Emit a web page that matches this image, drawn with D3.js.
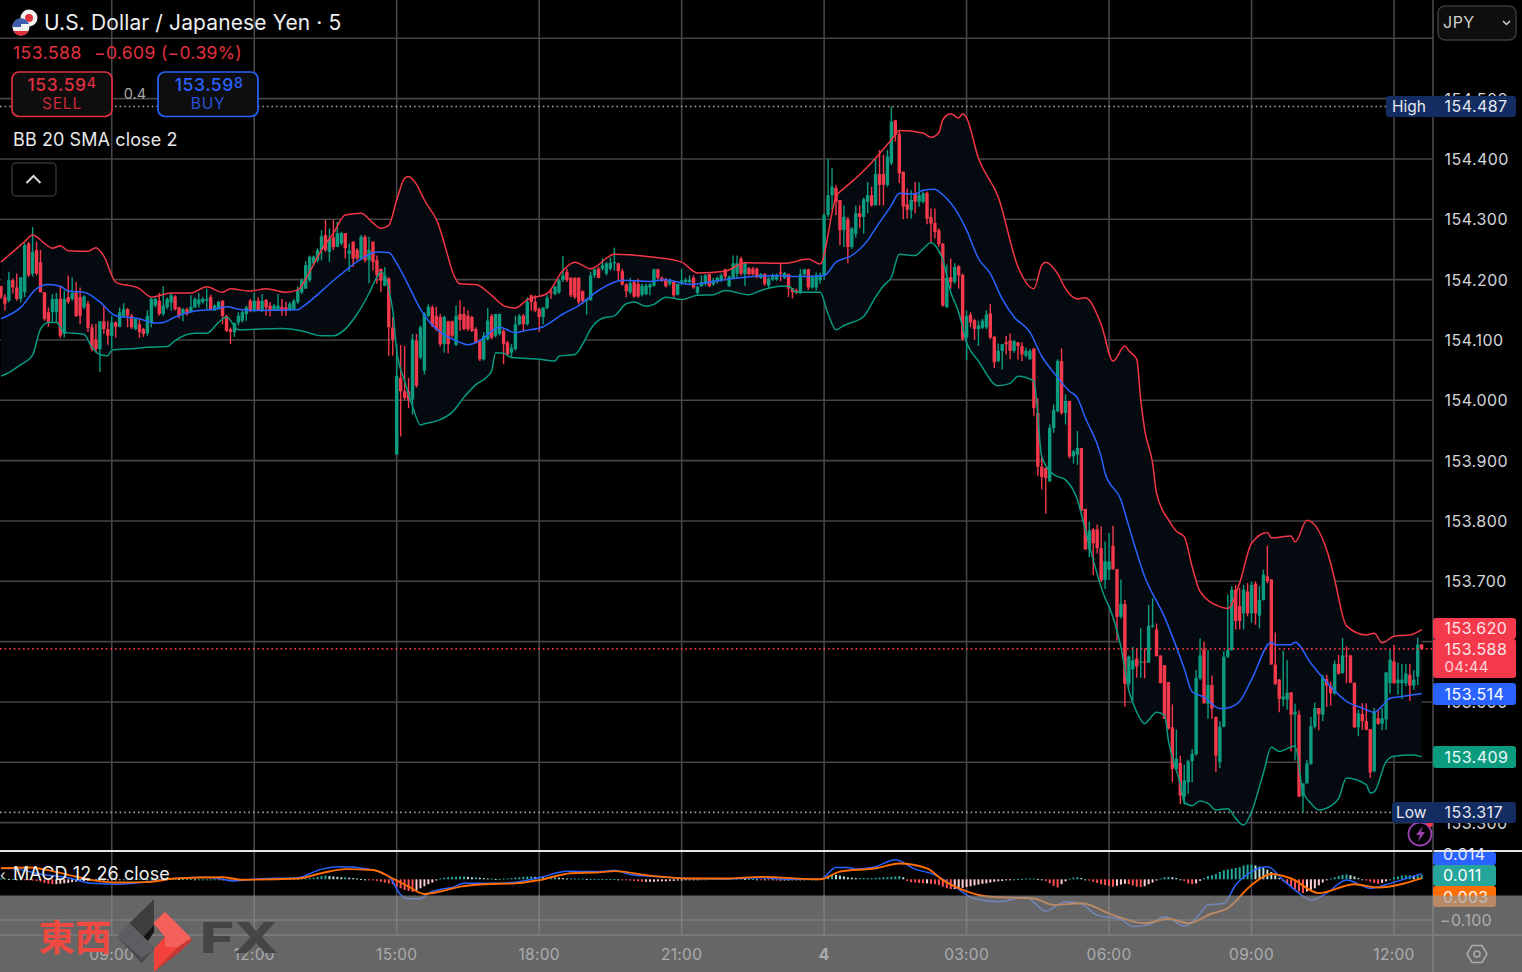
<!DOCTYPE html>
<html><head><meta charset="utf-8"><style>html,body{margin:0;padding:0;background:#000;overflow:hidden}svg{display:block}</style>
<script src="https://cdn.jsdelivr.net/npm/d3@7"></script></head><body><div id="c"></div>
<script>
const opens=[
154.189,154.171,154.165,154.199,154.187,154.168,154.179,154.260,154.210,154.249,
154.229,154.179,154.146,154.146,154.146,154.168,154.110,154.171,154.168,154.179,
154.171,154.154,154.160,154.121,154.101,154.085,154.131,154.118,154.107,154.129,
154.122,154.140,154.151,154.140,154.118,154.126,154.118,154.111,154.129,154.157,
154.165,154.143,154.154,154.162,154.172,154.154,154.143,154.151,154.146,154.154,
154.159,154.163,154.165,154.171,154.149,154.151,154.165,154.140,154.118,154.113,
154.129,154.132,154.143,154.165,154.149,154.165,154.149,154.166,154.157,154.149,
154.149,154.155,154.154,154.149,154.151,154.163,154.179,154.185,154.199,154.227,
154.232,154.249,154.274,154.246,154.270,154.254,154.260,154.277,154.243,154.263,
154.249,154.235,154.271,154.232,154.263,154.232,154.218,154.190,154.202,154.121,
153.910,154.037,154.015,154.015,154.001,154.099,154.071,154.049,154.140,154.154,
154.140,154.138,154.093,154.131,154.131,154.092,154.143,154.143,154.140,154.138,
154.118,154.099,154.068,154.101,154.140,154.107,154.110,154.115,154.096,154.079,
154.085,154.126,154.140,154.126,154.174,154.163,154.151,154.138,154.153,154.179,
154.176,154.179,154.199,154.213,154.203,154.203,154.203,154.181,154.165,154.166,
154.207,154.218,154.218,154.210,154.218,154.227,154.227,154.214,154.192,154.179,
154.196,154.193,154.175,154.176,154.187,154.190,154.217,154.203,154.200,154.193,
154.196,154.175,154.193,154.196,154.196,154.203,154.178,154.189,154.193,154.209,
154.192,154.196,154.199,154.217,154.189,154.203,154.210,154.235,154.209,154.219,
154.218,154.218,154.203,154.209,154.190,154.200,154.200,154.212,154.203,154.209,
154.186,154.182,154.179,154.209,154.217,154.187,154.187,154.199,154.207,154.307,
154.340,154.352,154.332,154.282,154.300,154.254,154.276,154.310,154.304,154.329,
154.340,154.323,154.375,154.375,154.357,154.393,154.464,154.442,154.379,154.325,
154.315,154.343,154.329,154.329,154.344,154.304,154.294,154.282,154.260,154.154,
154.204,154.196,154.222,154.208,154.104,154.142,154.133,154.118,154.120,154.121,
154.144,154.105,154.065,154.082,154.096,154.099,154.082,154.096,154.090,154.074,
154.068,154.086,153.979,153.890,153.888,153.866,153.954,153.982,154.065,153.979,
153.999,153.907,153.910,153.921,153.820,153.753,153.786,153.786,153.755,153.702,
153.719,153.759,153.720,153.641,153.662,153.530,153.554,153.572,153.565,153.567,
153.565,153.625,153.620,153.577,153.561,153.533,153.458,153.389,153.399,153.343,
153.367,153.402,153.413,153.539,153.587,153.497,153.528,153.475,153.400,153.459,
153.575,153.586,153.686,153.659,153.647,153.683,153.647,153.696,153.643,153.669,
153.708,153.703,153.562,153.537,153.504,153.504,153.516,153.479,153.479,153.344,
153.365,153.397,153.459,153.490,153.479,153.538,153.527,153.514,153.563,153.548,
153.577,153.577,153.532,153.458,153.480,153.468,153.455,153.385,153.473,153.464,
153.471,153.531,153.567,153.531,153.531,153.531,153.545,153.527,153.542,153.595];
const highs=[
154.190,154.176,154.213,154.202,154.210,154.204,154.260,154.263,154.287,154.263,
154.249,154.179,154.154,154.176,154.178,154.189,154.182,154.207,154.204,154.196,
154.187,154.174,154.165,154.127,154.127,154.131,154.157,154.132,154.140,154.131,
154.154,154.161,154.153,154.143,154.135,154.135,154.120,154.149,154.171,154.171,
154.178,154.189,154.171,154.178,154.174,154.155,154.153,154.154,154.174,154.171,
154.178,154.171,154.185,154.175,154.159,154.165,154.166,154.142,154.121,154.129,
154.146,154.149,154.157,154.168,154.179,154.171,154.176,154.168,154.163,154.160,
154.176,154.168,154.163,154.163,154.168,154.189,154.202,154.231,154.240,154.240,
154.252,154.282,154.299,154.285,154.299,154.296,154.279,154.277,154.260,154.263,
154.252,154.274,154.274,154.271,154.263,154.240,154.218,154.221,154.204,154.138,
154.093,154.092,154.090,154.037,154.110,154.110,154.124,154.146,154.159,154.157,
154.155,154.143,154.140,154.132,154.132,154.157,154.166,154.155,154.149,154.140,
154.121,154.101,154.113,154.153,154.143,154.143,154.144,154.118,154.099,154.093,
154.140,154.143,154.143,154.171,154.175,154.174,154.154,154.154,154.174,154.185,
154.190,154.202,154.239,154.218,154.204,154.204,154.204,154.182,154.168,154.213,
154.218,154.221,154.235,154.229,154.237,154.253,154.228,154.218,154.194,154.203,
154.199,154.202,154.193,154.193,154.194,154.218,154.218,154.205,154.203,154.202,
154.198,154.193,154.218,154.203,154.207,154.207,154.190,154.207,154.209,154.210,
154.203,154.205,154.210,154.218,154.207,154.240,154.240,154.238,154.229,154.221,
154.221,154.220,154.211,154.211,154.204,154.210,154.210,154.227,154.213,154.210,
154.186,154.185,154.218,154.218,154.218,154.207,154.212,154.212,154.310,154.400,
154.385,154.357,154.332,154.323,154.304,154.287,154.323,154.323,154.336,154.362,
154.354,154.401,154.415,154.407,154.415,154.487,154.465,154.446,154.379,154.351,
154.348,154.362,154.361,154.346,154.346,154.318,154.318,154.285,154.260,154.225,
154.235,154.227,154.224,154.210,154.149,154.146,154.135,154.132,154.135,154.149,
154.160,154.107,154.094,154.093,154.107,154.111,154.100,154.096,154.096,154.087,
154.085,154.086,154.003,153.906,153.888,153.960,153.993,154.068,154.086,154.010,
153.999,153.918,153.949,153.921,153.820,153.799,153.788,153.794,153.791,153.766,
153.780,153.792,153.720,153.703,153.669,153.577,153.591,153.589,153.622,153.589,
153.661,153.672,153.630,153.577,153.561,153.533,153.496,153.454,153.411,153.396,
153.404,153.422,153.553,153.605,153.600,153.586,153.544,153.476,153.468,153.584,
153.678,153.692,153.694,153.689,153.694,153.697,153.700,153.700,153.692,153.719,
153.759,153.703,153.615,153.538,153.585,153.569,153.516,153.497,153.486,153.365,
153.404,153.475,153.499,153.490,153.545,153.545,153.534,153.569,153.578,153.606,
153.592,153.578,153.532,153.487,153.498,153.498,153.455,153.490,153.486,153.490,
153.549,153.586,153.595,153.565,153.563,153.563,153.563,153.553,153.607,153.596];
const lows=[
154.168,154.149,154.162,154.177,154.165,154.162,154.171,154.204,154.205,154.207,
154.179,154.132,154.122,154.129,154.129,154.103,154.104,154.160,154.165,154.138,
154.126,154.151,154.113,154.081,154.079,154.047,154.110,154.092,154.085,154.104,
154.121,154.138,154.121,154.118,154.116,154.103,154.105,154.107,154.121,154.154,
154.140,154.140,154.151,154.149,154.149,154.136,154.131,154.140,154.146,154.153,
154.154,154.160,154.151,154.149,154.148,154.150,154.126,154.113,154.093,154.105,
154.124,154.129,154.132,154.146,154.146,154.148,154.146,154.140,154.139,154.148,
154.149,154.140,154.140,154.148,154.150,154.160,154.176,154.185,154.196,154.224,
154.229,154.232,154.246,154.229,154.249,154.254,154.257,154.235,154.213,154.221,
154.232,154.232,154.229,154.194,154.215,154.193,154.179,154.189,154.074,154.074,
153.910,153.940,154.001,153.987,153.976,154.021,154.068,154.043,154.138,154.121,
154.115,154.089,154.079,154.078,154.104,154.090,154.115,154.116,154.115,154.113,
154.094,154.065,154.066,154.099,154.101,154.104,154.107,154.060,154.074,154.070,
154.082,154.124,154.115,154.124,154.149,154.146,154.113,154.126,154.151,154.168,
154.174,154.176,154.196,154.196,154.171,154.168,154.159,154.160,154.142,154.165,
154.203,154.202,154.215,154.207,154.215,154.215,154.199,154.190,154.171,154.176,
154.170,154.170,154.172,154.174,154.174,154.188,154.200,154.196,154.187,154.190,
154.171,154.174,154.190,154.193,154.193,154.185,154.175,154.188,154.190,154.188,
154.190,154.193,154.196,154.199,154.188,154.202,154.202,154.207,154.190,154.207,
154.207,154.202,154.201,154.190,154.186,154.198,154.198,154.197,154.201,154.171,
154.169,154.176,154.176,154.204,154.183,154.185,154.182,154.193,154.199,154.304,
154.315,154.307,154.257,154.254,154.227,154.251,154.270,154.285,154.276,154.310,
154.321,154.323,154.323,154.323,154.354,154.390,154.429,154.360,154.300,154.301,
154.301,154.310,154.321,154.326,154.292,154.262,154.268,154.254,154.155,154.154,
154.185,154.193,154.185,154.099,154.066,154.121,154.100,154.090,154.118,154.118,
154.101,154.053,154.063,154.051,154.076,154.068,154.079,154.067,154.065,154.071,
154.067,153.974,153.874,153.852,153.812,153.864,153.946,153.980,153.976,153.960,
153.904,153.895,153.893,153.816,153.752,153.740,153.710,153.746,153.699,153.687,
153.702,153.719,153.602,153.638,153.492,153.525,153.502,153.540,153.540,153.539,
153.565,153.623,153.575,153.531,153.472,153.454,153.367,153.386,153.331,153.330,
153.348,153.367,153.411,153.536,153.497,153.472,153.472,153.384,153.390,153.458,
153.573,153.585,153.620,153.620,153.620,153.642,153.631,153.628,153.622,153.668,
153.697,153.562,153.528,153.483,153.493,153.487,153.418,153.403,153.343,153.317,
153.365,153.396,153.456,153.453,153.468,153.492,153.494,153.512,153.545,153.547,
153.531,153.531,153.457,153.443,153.454,153.453,153.374,153.383,153.462,153.453,
153.454,153.514,153.530,153.512,153.505,153.526,153.502,153.520,153.528,153.586];
const closes=[
154.171,154.160,154.199,154.187,154.168,154.204,154.257,154.207,154.246,154.210,
154.179,154.135,154.129,154.168,154.168,154.107,154.168,154.163,154.178,154.140,
154.140,154.172,154.120,154.085,154.085,154.131,154.118,154.107,154.129,154.122,
154.146,154.151,154.140,154.121,154.135,154.113,154.110,154.140,154.168,154.168,
154.143,154.157,154.168,154.174,154.151,154.140,154.151,154.143,154.155,154.168,
154.167,154.168,154.168,154.151,154.157,154.163,154.140,154.115,154.113,154.128,
154.140,154.146,154.154,154.149,154.165,154.149,154.165,154.154,154.149,154.157,
154.157,154.149,154.149,154.160,154.165,154.182,154.199,154.224,154.238,154.238,
154.249,154.272,154.249,154.268,154.254,154.277,154.277,154.252,154.248,154.235,
154.235,154.271,154.232,154.249,154.229,154.207,154.199,154.207,154.121,154.101,
154.040,154.015,154.004,154.001,154.101,154.024,154.121,154.143,154.155,154.124,
154.118,154.093,154.138,154.093,154.107,154.140,154.133,154.118,154.118,154.115,
154.096,154.068,154.107,154.132,154.104,154.143,154.143,154.093,154.076,154.087,
154.126,154.140,154.126,154.163,154.163,154.149,154.138,154.154,154.170,154.178,
154.188,154.199,154.207,154.199,154.174,154.171,154.163,154.165,154.168,154.207,
154.217,154.203,154.224,154.227,154.228,154.229,154.214,154.192,154.181,154.194,
154.172,154.172,154.190,154.190,154.192,154.217,154.203,154.199,154.189,154.199,
154.174,154.193,154.199,154.200,154.200,154.187,154.188,154.196,154.207,154.189,
154.199,154.203,154.207,154.205,154.205,154.227,154.227,154.210,154.227,154.209,
154.209,154.204,154.209,154.193,154.202,154.207,154.207,154.210,154.211,154.185,
154.179,154.179,154.209,154.217,154.187,154.204,154.207,154.207,154.307,154.340,
154.354,154.329,154.282,154.304,154.254,154.285,154.310,154.304,154.333,154.340,
154.323,154.375,154.357,154.357,154.404,154.462,154.440,154.376,154.321,154.316,
154.332,154.329,154.340,154.343,154.301,154.293,154.279,154.259,154.157,154.203,
154.196,154.221,154.207,154.102,154.140,154.129,154.118,154.124,154.132,154.142,
154.104,154.063,154.082,154.093,154.093,154.082,154.098,154.090,154.076,154.082,
154.082,153.987,153.890,153.873,153.871,153.954,153.984,154.065,153.979,153.999,
153.907,153.915,153.921,153.817,153.753,153.784,153.763,153.755,153.701,153.733,
153.733,153.720,153.641,153.663,153.530,153.575,153.569,153.559,153.567,153.565,
153.626,153.627,153.576,153.531,153.472,153.456,153.389,153.406,153.345,153.370,
153.402,153.414,153.540,153.577,153.498,153.528,153.489,153.411,153.459,153.575,
153.586,153.686,153.634,153.634,153.686,153.647,153.694,153.647,153.669,153.711,
153.700,153.562,153.530,153.505,153.509,153.515,153.479,153.484,153.343,153.365,
153.398,153.460,153.490,153.480,153.540,153.527,153.514,153.563,153.547,153.577,
153.576,153.532,153.458,153.481,153.468,153.454,153.383,153.484,153.464,153.473,
153.549,153.570,153.531,153.537,153.537,153.547,153.527,153.537,153.595,153.588];

const bbUpperIdx=[0,6,8,11,13,15,17,22,24,26,29,35,38,43,48,52,56,58,63,67,72,75,78,81,84,87,91,94,96,98,100,102,103,105,107,110,116,120,124,127,130,133,138,142,145,149,155,165,172,176,183,188,198,204,207,211,213,216,219,225,227,233,235,237,238,240,242,243,244,247,252,257,261,263,264,267,269,272,274,278,281,284,285,287,288,289,291,292,295,297,299,301,303,308,310,313,316,320,321,326,327,330,336,337,340,345,347,349,352,356,359];
const bbUpper=[154.229,154.263,154.274,154.260,154.252,154.256,154.248,154.247,154.253,154.239,
154.196,154.185,154.171,154.178,154.178,154.188,154.179,154.185,154.181,154.185,
154.179,154.183,154.213,154.249,154.277,154.307,154.310,154.294,154.285,154.290,
154.332,154.368,154.371,154.358,154.332,154.300,154.193,154.192,154.174,154.157,
154.153,154.167,154.177,154.215,154.229,154.218,154.242,154.237,154.229,154.211,
154.214,154.228,154.227,154.234,154.226,154.337,154.351,154.368,154.387,154.432,
154.447,154.443,154.436,154.444,154.465,154.475,154.468,154.475,154.468,154.401,
154.337,154.221,154.185,154.224,154.229,154.210,154.185,154.168,154.170,154.126,
154.065,154.090,154.082,154.068,154.001,153.951,153.896,153.846,153.802,153.783,
153.774,153.724,153.683,153.658,153.655,153.697,153.763,153.781,153.772,153.775,
153.765,153.801,153.730,153.703,153.626,153.611,153.614,153.598,153.609,153.611,153.620];
const bbMidIdx=[0,5,9,12,15,17,21,25,29,35,39,41,44,49,54,57,60,64,75,76,85,92,95,98,100,103,106,116,118,121,126,130,132,137,142,146,151,157,164,168,174,182,190,196,201,208,211,215,219,221,225,227,231,233,236,237,241,244,247,250,253,256,260,263,266,270,272,274,278,279,283,285,289,294,299,301,304,308,310,313,316,321,322,326,327,331,334,340,344,347,349,351,354,359];
const bbMid=[154.135,154.154,154.185,154.192,154.189,154.181,154.179,154.163,154.140,154.135,
154.128,154.129,154.138,154.148,154.151,154.155,154.151,154.149,154.150,154.154,
154.204,154.238,154.246,154.245,154.227,154.190,154.151,154.096,154.092,154.099,
154.121,154.112,154.115,154.122,154.143,154.157,154.182,154.199,154.197,154.200,
154.192,154.199,154.205,154.207,154.205,154.207,154.229,154.240,154.265,154.285,
154.323,154.343,154.342,154.348,154.350,154.346,154.318,154.282,154.235,154.210,
154.168,154.138,154.113,154.073,154.046,154.015,154.004,153.971,153.907,153.879,
153.835,153.791,153.708,153.641,153.555,153.517,153.508,153.489,153.490,153.501,
153.537,153.599,153.595,153.595,153.599,153.564,153.540,153.501,153.490,153.483,
153.493,153.506,153.509,153.514];
const bbLowerIdx=[0,2,5,8,10,12,14,16,21,23,25,27,28,34,37,42,44,49,52,55,57,60,71,76,81,84,87,90,93,95,96,99,100,102,104,106,107,111,114,117,120,123,124,125,127,129,136,140,141,145,147,149,152,155,158,160,163,165,168,172,176,180,183,189,192,197,199,201,204,207,209,211,213,218,221,223,225,227,231,233,235,236,238,240,242,244,247,252,255,257,261,263,266,269,272,274,276,279,280,283,285,287,289,290,292,294,295,298,299,301,303,305,307,310,312,314,316,319,321,323,327,329,331,333,335,338,340,345,346,347,350,352,357,359];
const bbLower=[154.040,154.046,154.059,154.075,154.118,154.129,154.129,154.113,154.109,154.088,
154.076,154.074,154.083,154.086,154.088,154.089,154.099,154.111,154.111,154.129,
154.138,154.117,154.119,154.115,154.107,154.107,154.118,154.143,154.177,154.204,
154.213,154.149,154.082,154.032,153.990,153.959,153.961,153.968,153.980,154.005,
154.026,154.040,154.049,154.079,154.078,154.071,154.068,154.065,154.073,154.076,
154.093,154.118,154.136,154.140,154.160,154.163,154.156,154.159,154.171,154.167,
154.174,154.175,154.182,154.175,154.182,154.189,154.189,154.179,154.179,154.179,
154.143,154.117,154.124,154.139,154.171,154.190,154.204,154.242,154.240,154.251,
154.261,154.257,154.232,154.179,154.146,154.096,154.065,154.024,154.028,154.040,
154.032,153.907,153.877,153.868,153.835,153.785,153.735,153.672,153.658,153.591,
153.519,153.483,153.464,153.470,153.483,153.478,153.436,153.364,153.334,153.328,
153.336,153.332,153.321,153.323,153.307,153.296,153.318,153.382,153.425,153.418,
153.427,153.351,153.332,153.321,153.324,153.340,153.374,153.363,153.349,153.351,
153.401,153.410,153.412,153.409];

const macdIdx=[0,4,11,17,23,29,37,44,52,59,65,75,81,86,93,98,101,103,106,108,111,114,117,124,130,136,143,146,151,155,159,165,174,184,192,199,207,211,214,216,221,226,231,236,241,246,252,259,264,269,273,277,283,286,290,294,299,302,305,309,312,316,320,324,328,331,335,340,346,351,359];
const macdLine=[0.027,0.025,0.011,0.004,-0.010,-0.012,-0.006,0.002,0.005,-0.004,0.001,0.004,0.025,0.031,0.025,0.007,-0.038,-0.048,-0.048,-0.034,-0.025,-0.020,-0.010,-0.010,-0.007,0.004,0.020,0.019,0.019,0.022,0.012,0.007,0.002,0.001,0.004,0,0,0.029,0.029,0.025,0.031,0.048,0.025,0.011,-0.018,-0.048,-0.055,-0.044,-0.078,-0.055,-0.061,-0.088,-0.098,-0.116,-0.112,-0.092,-0.115,-0.096,-0.063,-0.059,-0.014,0.019,0.031,-0.002,-0.034,-0.051,-0.034,-0.002,-0.022,-0.010,0.014];
const signalIdx=[0,7,17,23,29,37,44,56,61,75,81,87,94,99,103,107,111,116,122,130,136,144,151,155,164,174,184,192,207,212,221,227,234,238,243,250,261,266,273,281,289,295,300,306,310,316,321,326,333,342,348,359];
const signalLine=[0.027,0.029,0.011,-0.002,-0.008,-0.007,0.002,0.005,-0.001,0.002,0.015,0.025,0.023,0.002,-0.018,-0.036,-0.030,-0.018,-0.012,-0.010,-0.002,0.015,0.017,0.020,0.009,0.002,0.002,0.006,0,0.019,0.027,0.039,0.027,-0.002,-0.026,-0.043,-0.047,-0.063,-0.059,-0.088,-0.108,-0.097,-0.108,-0.084,-0.071,-0.014,0.013,0.002,-0.034,-0.012,-0.020,0.003];
const histMacd=[
0.002,0.002,0.001,0.001,0,0,-0.001,-0.002,-0.003,-0.004,
-0.006,-0.009,-0.011,-0.012,-0.012,-0.011,-0.010,-0.009,-0.007,-0.006,
-0.005,-0.004,-0.004,-0.004,-0.003,-0.003,-0.003,-0.003,-0.002,-0.002,
-0.001,0,0,0.001,0.001,0.001,0.001,0,0,0,
0.001,0.001,0.001,0.002,0.002,0.001,0.001,0.001,0.001,0,
0,0,0,0,0,-0.001,-0.001,-0.002,-0.005,-0.004,
-0.004,-0.003,-0.002,-0.001,0,0.001,0.001,0.001,0.001,0.001,
0.001,0.001,0.001,0.001,0.001,0.001,0.002,0.002,0.003,0.004,
0.006,0.008,0.009,0.008,0.007,0.006,0.005,0.005,0.004,0.003,
0.002,0.001,0,-0.001,-0.002,-0.004,-0.006,-0.008,-0.010,-0.012,
-0.018,-0.022,-0.026,-0.029,-0.031,-0.028,-0.022,-0.017,-0.012,-0.008,
-0.003,0.002,0.004,0.005,0.006,0.006,0.007,0.007,0.006,0.005,
0.005,0.004,0.003,0.002,0.002,0.001,0.001,0.002,0.002,0.003,
0.004,0.005,0.006,0.007,0.007,0.006,0.006,0.005,0.005,0.005,
0.005,0.004,0.003,0.002,0.002,0.002,0.002,0.002,0.001,0.001,
0.001,0.001,0.001,0.001,0.001,0.001,0,-0.001,-0.002,-0.003,
-0.004,-0.005,-0.006,-0.006,-0.006,-0.006,-0.005,-0.005,-0.005,-0.004,
-0.004,-0.003,-0.003,-0.002,-0.002,-0.001,-0.001,0,0,0.001,
0.001,0.001,0.001,0.001,0.002,0.002,0.002,0.002,0.001,0.001,
0.001,0,-0.001,-0.001,-0.002,-0.002,-0.003,-0.003,-0.003,-0.003,
-0.002,-0.002,-0.001,-0.001,0,0,0,0.001,0.004,0.008,
0.012,0.011,0.009,0.007,0.005,0.004,0.003,0.003,0.003,0.003,
0.003,0.004,0.004,0.005,0.005,0.006,0.007,0.008,0.005,-0.004,
-0.007,-0.008,-0.009,-0.010,-0.010,-0.011,-0.012,-0.014,-0.018,-0.022,
-0.024,-0.024,-0.023,-0.021,-0.019,-0.017,-0.015,-0.013,-0.011,-0.010,
-0.008,-0.006,-0.005,-0.004,-0.002,-0.001,0,0.001,0.001,0.002,
0.002,0.002,0.001,0,-0.004,-0.010,-0.016,-0.020,-0.012,-0.005,
0.002,0.004,0.005,0.003,0,-0.003,-0.006,-0.009,-0.012,-0.014,
-0.016,-0.018,-0.016,-0.013,-0.011,-0.012,-0.015,-0.018,-0.019,-0.017,
-0.012,-0.008,-0.003,0.002,0.005,0.006,0.005,0.003,0,-0.004,
-0.010,-0.012,-0.010,-0.004,0.003,0.008,0.010,0.013,0.018,0.022,
0.024,0.026,0.028,0.030,0.034,0.036,0.036,0.034,0.031,0.028,
0.024,0.018,0.010,0.003,-0.005,-0.012,-0.018,-0.024,-0.030,-0.034,
-0.030,-0.026,-0.022,-0.015,-0.008,-0.002,0.002,0.005,0.008,0.011,
0.012,0.010,0.007,0.003,0,-0.003,-0.006,-0.009,-0.011,-0.009,
-0.005,0,0.004,0.007,0.009,0.010,0.010,0.009,0.010,0.011];

const priceTicks=[154.6,154.5,154.4,154.3,154.2,154.1,154.0,153.9,153.8,153.7,153.6,153.5,153.4,153.3];
const timeTickIdx=[28,64,100,136,172,208,244,280,316,352];
const timeTickLabels=["09:00","12:00","15:00","18:00","21:00","4","03:00","06:00","09:00","12:00"];
const high=154.487, low=153.317, last=153.588;
const bbUpperLast=153.620, bbMidLast=153.514, bbLowerLast=153.409;

const W=1522,H=972,AX=1433;
const UP="#0b9b7f",DOWN="#f5394c",GRID="#45454a",FONT="Inter,'Noto Sans',sans-serif";
const svg=d3.select("#c").append("svg").attr("width",W).attr("height",H).style("font-family",FONT);
const x=d3.scaleLinear().domain([100,352]).range([396.7,1394]);
const y=d3.scaleLinear().domain([153.3,154.3]).range([822.6,219.3]);
const ym=d3.scaleLinear().domain([-0.1,0]).range([920,879.3]);

const defs=svg.append("defs");
defs.append("clipPath").attr("id","main").append("rect").attr("width",AX).attr("height",851);
defs.append("clipPath").attr("id","sub").append("rect").attr("y",852).attr("width",AX).attr("height",83);
svg.append("rect").attr("width",W).attr("height",H).attr("fill","#000");

// grid
const grid=svg.append("g").attr("stroke",GRID).attr("stroke-width",1.6);
grid.selectAll(".h").data(priceTicks).join("line").attr("x1",0).attr("x2",AX).attr("y1",d=>y(d)).attr("y2",d=>y(d));
grid.append("line").attr("x1",0).attr("x2",AX).attr("y1",ym(-0.1)).attr("y2",ym(-0.1));
grid.selectAll(".v").data(timeTickIdx).join("line").attr("x1",d=>x(d)).attr("x2",d=>x(d)).attr("y1",0).attr("y2",935);

const main=svg.append("g").attr("clip-path","url(#main)");
const zip=(ix,vs)=>ix.map((k,n)=>[k,vs[n]]);
const upperPts=zip(bbUpperIdx,bbUpper),midPts=zip(bbMidIdx,bbMid),lowerPts=zip(bbLowerIdx,bbLower);
const line=d3.line().x(d=>x(d[0])).y(d=>y(d[1])).curve(d3.curveMonotoneX);
main.append("path").attr("d",line(upperPts)+"L"+line(lowerPts.slice().reverse()).slice(1)+"Z").attr("fill","#040a10");

// dotted extremes
const dotted=(v,x2,col)=>main.append("line").attr("x1",0).attr("x2",x2).attr("y1",y(v)).attr("y2",y(v)).attr("stroke",col).attr("stroke-width",1.6).attr("stroke-dasharray","1.6 3");
dotted(high,1386,"#a0a0a0");dotted(low,1392,"#a0a0a0");

// candles
const candles=d3.range(opens.length).map(i=>({i,o:opens[i],h:highs[i],l:lows[i],c:closes[i]}));
const g=main.append("g");
g.selectAll("line").data(candles).join("line").attr("x1",d=>x(d.i)).attr("x2",d=>x(d.i)).attr("y1",d=>y(d.h)).attr("y2",d=>y(d.l)).attr("stroke",d=>d.c>=d.o?UP:DOWN).attr("stroke-width",1.4);
g.selectAll("rect").data(candles).join("rect").attr("x",d=>x(d.i)-1.7).attr("width",3.4).attr("y",d=>y(Math.max(d.o,d.c))).attr("height",d=>Math.max(1,Math.abs(y(d.o)-y(d.c)))).attr("fill",d=>d.c>=d.o?UP:DOWN);

// bands
[[upperPts,"#f23645"],[midPts,"#2962ff"],[lowerPts,"#089981"]].forEach(([p,c])=>main.append("path").attr("d",line(p)).attr("fill","none").attr("stroke",c).attr("stroke-width",1.5).attr("stroke-linejoin","round"));
dotted(last,AX,"#f23645");

// MACD pane
const sub=svg.append("g").attr("clip-path","url(#sub)");
const hc=(v,i)=>{const p=i?histMacd[i-1]:v;return v>=0?(v>=p?"#26a69a":"#b2dfdb"):(v<p?"#ff5252":"#ffcdd2");};
sub.selectAll("rect").data(histMacd).join("rect").attr("x",(d,i)=>x(i)-1).attr("width",2).attr("y",d=>Math.min(ym(d),ym(0))).attr("height",d=>Math.max(1,Math.abs(ym(d)-ym(0)))).attr("fill",(d,i)=>hc(d,i));
const mline=d3.line().x(d=>x(d[0])).y(d=>ym(d[1])).curve(d3.curveMonotoneX);
sub.append("path").attr("d",mline(zip(macdIdx,macdLine))).attr("fill","none").attr("stroke","#2962ff").attr("stroke-width",1.5);
sub.append("path").attr("d",mline(zip(signalIdx,signalLine))).attr("fill","none").attr("stroke","#ff6d00").attr("stroke-width",1.9);

// divider between panes and axis frame
svg.append("line").attr("x1",0).attr("x2",W).attr("y1",851).attr("y2",851).attr("stroke","#e6e6e6").attr("stroke-width",1.8);
svg.append("line").attr("x1",AX).attr("x2",AX).attr("y1",0).attr("y2",H).attr("stroke","#4a4a4e").attr("stroke-width",1.6);
svg.append("line").attr("x1",0).attr("x2",W).attr("y1",935).attr("y2",935).attr("stroke","#4a4a4e").attr("stroke-width",1.6);

const txt=(t,px,py,size,fill,o={})=>{const e=svg.append("text").attr("x",px).attr("y",py).attr("font-size",size).attr("fill",fill).text(t);if(o.anchor)e.attr("text-anchor",o.anchor);if(o.weight)e.attr("font-weight",o.weight);if(o.ls)e.attr("letter-spacing",o.ls);if(o.family)e.attr("font-family",o.family);return e;};
const fmt=d3.format(".3f");

// price labels
priceTicks.slice(1).forEach(v=>txt(fmt(v),1444.5,y(v)+6,16,"#d4d6da",{ls:0.45}));

// flash icon
svg.append("circle").attr("cx",1420).attr("cy",834).attr("r",11.5).attr("fill","#000").attr("stroke","#9c3fb0").attr("stroke-width",1.8);
svg.append("path").attr("d","M1423 826 L1416 835 L1420 835 L1418 842 L1425 832 L1421 832 Z").attr("fill","#9c3fb0");
svg.append("circle").attr("cx",1430).attr("cy",824).attr("r",3).attr("fill","#f23645");

// chips
const chip=(px,py,w,h,fill,r=3)=>svg.append("rect").attr("x",px).attr("y",py).attr("width",w).attr("height",h).attr("rx",r).attr("fill",fill);
chip(1386,96,130,21,"#132d63");txt("High",1392,112,15.5,"#e6e8ee");txt(fmt(high),1444.5,112,16,"#e6e8ee",{ls:0.45});
chip(1392,802,124,21,"#132d63");txt("Low",1396,818,15.5,"#e6e8ee");txt(fmt(low),1444.5,818,16,"#e6e8ee",{ls:0.45});
chip(1433,618,83,21,"#f5394c");txt(fmt(bbUpperLast),1444.5,634,16,"#fbe3e5",{ls:0.45});
chip(1433,639,83,39,"#f5394c");txt(fmt(last),1444.5,655,16,"#fbe3e5",{ls:0.45});txt("04:44",1444.5,672,15,"#fbd0d4",{ls:0.3});
chip(1433,683,83,22,"#2962ff");txt(fmt(bbMidLast),1444.5,699.5,16,"#fff",{ls:0.45});
chip(1433,746,83,22,"#0b9b7f");txt(fmt(bbLowerLast),1444.5,763,16,"#eafaf6",{ls:0.45});

// MACD chips
chip(1433,852,63,13,"#2962ff");txt("0.014",1443,860,16,"#e8ecff",{ls:0.3});
chip(1433,865,63,21,"#26a69a");txt("0.011",1443,881,16,"#fff",{ls:0.3});
chip(1433,886,63,21,"#ff6d00");txt("0.003",1443,902.5,16,"#fff",{ls:0.3});
txt("\u22120.100",1440,926,16,"#d4d6da",{ls:0.3});

// time labels
timeTickIdx.forEach((k,n)=>txt(timeTickLabels[n],x(k),960,15.5,"#d1d4dc",{anchor:"middle",weight:timeTickLabels[n]==="4"?700:400,ls:0.3}));
// settings icon
svg.append("path").attr("d","M1467 954 L1472 945.5 L1482 945.5 L1487 954 L1482 962.5 L1472 962.5 Z").attr("fill","none").attr("stroke","#d1d4dc").attr("stroke-width",1.5);
svg.append("circle").attr("cx",1477).attr("cy",954).attr("r",3).attr("fill","none").attr("stroke","#d1d4dc").attr("stroke-width",1.5);

// legend
const jp=svg.append("g");
jp.append("circle").attr("cx",29).attr("cy",18).attr("r",8.5).attr("fill","#f4f4f4");
jp.append("circle").attr("cx",29).attr("cy",18).attr("r",4).attr("fill","#e0303c");
jp.append("circle").attr("cx",21).attr("cy",27).attr("r",8.5).attr("fill","#f0f0f0");
jp.append("path").attr("d","M12.5 27 A8.5 8.5 0 0 1 29 24 L21 24 L21 27 Z").attr("fill","#3f5bb0");
jp.append("path").attr("d","M13.5 31 L28.5 31 A8.5 8.5 0 0 1 13.5 31 Z").attr("fill","#e0303c");
txt("U.S. Dollar / Japanese Yen \u00b7 5",44,30,21,"#eceef0",{ls:0.12});
txt("153.588",13,59,17.5,"#e0303f",{ls:0.5});
txt("\u22120.609 (\u22120.39%)",94,59,17.5,"#e0303f",{ls:0.35});
const btn=(px,w,stroke)=>svg.append("rect").attr("x",px).attr("y",72).attr("width",w).attr("height",44.5).attr("rx",7).attr("fill","#0e0e0e").attr("stroke",stroke).attr("stroke-width",1.7);
btn(12,100,"#e0303f");btn(158,100,"#2962ff");
const sup=(a,b,cx,fill)=>{const t=txt(a,cx,91,17.5,fill,{anchor:"middle",ls:0.6,weight:500});t.append("tspan").attr("font-size",14).attr("dy",-3).text(b);};
sup("153.59","4",62,"#e0303f");sup("153.59","8",209,"#2962ff");
txt("SELL",62,109,15.5,"#c92a39",{anchor:"middle",ls:0.8});
txt("BUY",208,109,15.5,"#2453d8",{anchor:"middle",ls:0.8});
txt("0.4",135,99,14.5,"#a8a8a8",{anchor:"middle"});
txt("BB 20 SMA close 2",13,146,18,"#e8e8e8",{ls:0.1});
svg.append("rect").attr("x",12).attr("y",163).attr("width",44).attr("height",33).attr("rx",4).attr("fill","#000").attr("stroke","#333").attr("stroke-width",1.4);
svg.append("path").attr("d","M26.5 183 L33.5 176 L40.5 183").attr("fill","none").attr("stroke","#d8d8d8").attr("stroke-width",2);
txt("MACD 12 26 close",13,880,18,"#f0f0f0",{ls:0.1});
txt("\u2039",0,880,14,"#f0f0f0");

// JPY button
svg.append("rect").attr("x",1438).attr("y",6).attr("width",78).attr("height",34).attr("rx",7).attr("fill","#0e0e0e").attr("stroke","#3a3a3a").attr("stroke-width",1.5);
txt("JPY",1443,28,16,"#cfcfcf",{ls:0.5});
svg.append("path").attr("d","M1503 21 L1506.5 24.5 L1510 21").attr("fill","none").attr("stroke","#cfcfcf").attr("stroke-width",1.5);

// watermark banner
svg.append("rect").attr("x",0).attr("y",895.5).attr("width",W).attr("height",H-895.5).attr("fill","#979797").attr("fill-opacity",0.675);
const logo=svg.append("g");
logo.append("path").attr("d","M154 899.3 L129.3 923.3 L143.3 936.7 L154 925 Z").attr("fill","#3d3d3d");
logo.append("path").attr("d","M143.3 936.7 L154 925 L154 932 L148 941 Z").attr("fill","#141414");
logo.append("path").attr("d","M129.3 923.3 L117.3 936.7 L141.7 963.3 L154 949.3 L154 947 L143.3 936.7 Z").attr("fill","#5e5e62");
logo.append("path").attr("d","M117.3 936.7 L141.7 963.3 L154 949.3 L141.7 958 Z").attr("fill","#4a4a4d");
logo.append("path").attr("d","M153.3 923.3 L165 911.7 L191.3 938.3 L178.3 947 L165 947 L165 936.7 Z").attr("fill","#f4605a");
logo.append("path").attr("d","M154 949 L165 936.7 L165 947 L178.3 947 L154 972 Z").attr("fill","#f2423b");
logo.append("path").attr("d","M178.3 947 L191.3 938.3 L191.3 941 L178.3 953 L154 972 Z").attr("fill","#c93531");
txt("東西",38.5,950.5,36.5,"#ee4a42",{weight:700,family:"'Noto Sans CJK JP'"});
txt("FX",200,953.3,43,"#454545",{weight:800,family:"Inter,'Liberation Sans'"}).attr("textLength",78).attr("lengthAdjust","spacingAndGlyphs");
</script></body></html>
